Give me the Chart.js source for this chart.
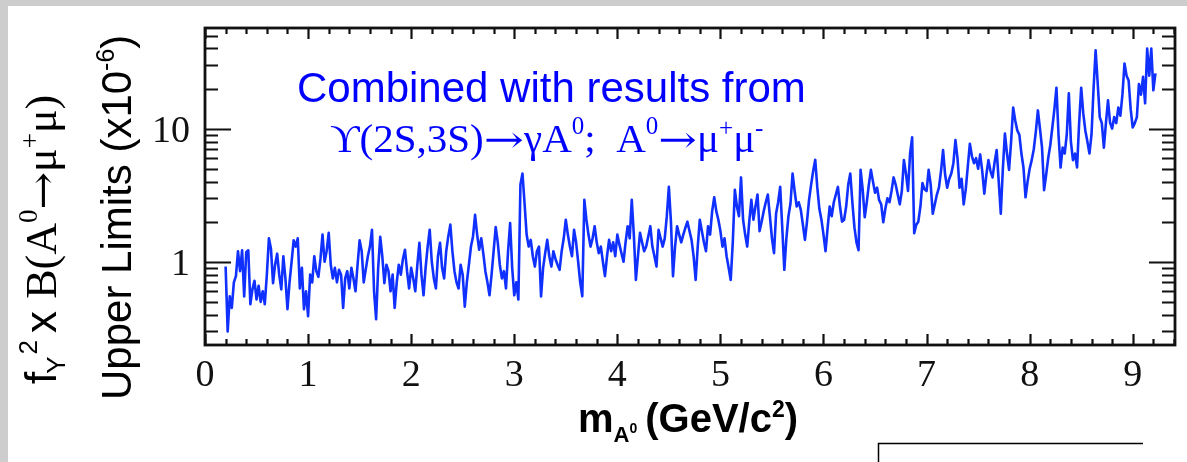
<!DOCTYPE html>
<html>
<head>
<meta charset="utf-8">
<script src="https://cdn.jsdelivr.net/npm/chart.js@4.4.0/dist/chart.umd.min.js"></script>
<style>
  html, body { margin: 0; padding: 0; background: #ffffff; }
  #wrap { position: relative; width: 1187px; height: 462px; }
  canvas { display: block; }
</style>
</head>
<body>
<div id="wrap"><canvas id="c" width="1187" height="462"></canvas></div>
<script>
// Mass scan grid (GeV/c^2): first point and spacing of the scan
const MASS_START = 0.20;
const MASS_STEP = 0.02;

// 90% C.L. upper limits on f_Y^2 x B(A0 -> mu+ mu-), in units of 1e-6, one per scan point
const upperLimit = [
  0.92, 0.30, 0.55, 0.45, 0.70, 0.78, 1.20, 0.85, 1.22, 0.55,
  1.18, 1.22, 0.48, 0.62, 0.72, 0.52, 0.66, 0.50, 0.60, 0.48,
  0.80, 1.50, 1.25, 0.69, 0.95, 1.15, 0.80, 0.62, 1.10, 0.75,
  0.44, 0.70, 1.00, 1.45, 1.30, 1.50, 0.63, 0.90, 0.44, 0.60,
  0.39, 0.80, 0.70, 1.10, 0.85, 0.77, 1.05, 1.60, 1.00, 1.20,
  1.65, 0.95, 0.75, 0.90, 0.70, 0.87, 0.80, 0.45, 0.75, 0.85,
  0.63, 0.90, 0.75, 0.60, 0.95, 1.45, 1.20, 0.70, 0.88, 1.10,
  1.30, 1.74, 0.60, 0.37, 0.90, 1.54, 1.10, 0.69, 0.95, 0.85,
  0.60, 0.80, 0.45, 0.70, 0.95, 0.80, 1.05, 1.23, 0.85, 0.63,
  0.90, 0.75, 0.60, 0.95, 1.39, 0.80, 0.56, 0.90, 1.30, 1.74,
  1.00, 0.75, 0.63, 1.10, 1.39, 0.90, 0.75, 1.20, 1.55, 1.90,
  1.20, 0.85, 0.70, 0.63, 0.95, 0.80, 0.46, 0.70, 0.95, 1.30,
  1.55, 2.25, 1.60, 1.23, 1.50, 1.15, 0.85, 0.70, 0.56, 0.80,
  1.20, 1.82, 1.40, 0.95, 0.75, 0.85, 0.63, 1.20, 1.95, 0.90,
  0.56, 0.70, 0.52, 3.80, 4.60, 2.75, 1.60, 1.30, 1.46, 1.10,
  0.92, 1.20, 1.30, 0.55, 0.90, 1.16, 1.46, 1.10, 0.92, 1.20,
  1.05, 0.95, 0.87, 1.20, 1.50, 2.07, 1.60, 1.30, 1.10, 1.74,
  1.40, 1.00, 0.70, 0.55, 2.92, 2.07, 1.60, 1.30, 1.50, 1.85,
  1.40, 1.16, 1.30, 1.00, 0.78, 1.10, 1.46, 1.20, 1.40, 1.10,
  1.60, 1.35, 1.16, 1.00, 1.40, 1.85, 1.50, 2.92, 1.60, 0.73,
  1.10, 1.65, 1.40, 1.20, 1.30, 1.55, 1.85, 1.30, 1.10, 0.92,
  1.74, 1.50, 1.30, 1.50, 2.20, 3.65, 2.00, 0.78, 1.30, 1.85,
  1.60, 1.40, 1.60, 1.80, 2.00, 1.70, 1.46, 1.10, 0.73, 1.30,
  2.07, 1.70, 1.40, 1.20, 1.85, 1.60, 2.40, 3.05, 2.40, 2.07,
  1.70, 1.30, 1.50, 1.10, 0.90, 0.73, 1.40, 3.47, 2.60, 2.20,
  4.30, 2.07, 1.60, 1.30, 2.00, 2.92, 2.07, 2.60, 3.20, 1.70,
  2.00, 2.40, 2.80, 3.20, 2.20, 1.50, 1.16, 2.30, 2.80, 3.65,
  1.80, 0.87, 1.50, 2.20, 2.75, 4.60, 3.40, 2.60, 2.80, 2.45,
  1.90, 1.46, 2.00, 2.92, 3.80, 4.80, 5.83, 3.60, 2.50, 2.07,
  1.60, 1.20, 1.80, 2.60, 2.20, 2.80, 3.20, 3.65, 2.60, 2.00,
  2.07, 2.60, 3.80, 4.60, 2.80, 1.82, 1.40, 1.22, 4.90, 3.50,
  2.16, 2.80, 3.80, 4.90, 4.00, 3.30, 3.60, 2.90, 2.70, 1.98,
  2.50, 3.00, 2.80, 3.40, 4.30, 3.80, 3.20, 2.70, 3.40, 5.80,
  4.60, 3.40, 6.50, 8.60, 1.64, 1.90, 2.00, 2.60, 3.90, 3.50,
  3.40, 4.90, 3.80, 2.30, 2.70, 3.20, 3.60, 4.80, 6.90, 4.50,
  3.60, 4.20, 4.60, 5.50, 8.20, 6.00, 3.60, 4.20, 2.70, 3.50,
  5.20, 7.70, 6.20, 5.50, 6.00, 5.00, 6.40, 4.80, 3.25, 4.50,
  5.80, 4.80, 4.30, 5.60, 6.90, 4.00, 2.30, 5.00, 9.20, 6.50,
  4.90, 8.00, 14.4, 11.5, 9.70, 9.00, 6.50, 5.10, 3.05, 4.00,
  5.00, 5.80, 7.00, 9.50, 13.7, 10.0, 7.20, 3.45, 4.50, 6.00,
  7.50, 10.2, 14.0, 20.3, 9.00, 5.10, 7.20, 6.50, 9.00, 18.4,
  8.00, 5.80, 6.50, 5.10, 11.0, 20.3, 13.0, 9.70, 8.00, 6.50,
  9.00, 20.0, 38.7, 22.0, 12.2, 11.0, 7.20, 11.0, 16.3, 11.1,
  10.0, 12.2, 11.0, 14.4, 12.5, 18.0, 30.8, 25.0, 23.0, 14.0,
  10.2, 11.0, 12.2, 21.6, 18.0, 24.5, 15.5, 40.0, 25.0, 40.0,
  19.4, 26.0
];

// Axis ranges and labelled ticks
const X_MIN = 0, X_MAX = 9.41;
const Y_MIN = 0.237, Y_MAX = 57;
const xTickValues = [0, 1, 2, 3, 4, 5, 6, 7, 8, 9];
const xTickLabels = ['0', '1', '2', '3', '4', '5', '6', '7', '8', '9'];
const yTickValues = [1, 10];
const yTickLabels = ['1', '10'];

const SANS = '"Liberation Sans", Arial, sans-serif';
const SERIF = '"Liberation Serif", "Times New Roman", serif';
const ARROW = '"DejaVu Serif", "DejaVu Sans", serif';
const BLUE_TEXT = '#0000ff';
const BLUE_LINE = '#0f30ff';

const points = upperLimit.map((v, i) => ({ x: MASS_START + i * MASS_STEP, y: v }));

// draw a run of text pieces with individual fonts, baseline offsets and optional horizontal stretch
function drawRuns(ctx, runs, x, y) {
  let cx = x;
  for (const r of runs) {
    ctx.font = r.font;
    const sx = r.sx || 1;
    const w = ctx.measureText(r.t).width * sx;
    ctx.save();
    ctx.translate(cx + (r.dx || 0), y + (r.dy || 0));
    ctx.scale(sx, 1);
    ctx.fillText(r.t, 0, 0);
    ctx.restore();
    if (!r.stay) cx += w + (r.dx || 0) + (r.after || 0);
  }
  return cx - x;
}
function runsWidth(ctx, runs) {
  let w = 0;
  for (const r of runs) {
    ctx.font = r.font;
    if (!r.stay) w += ctx.measureText(r.t).width * (r.sx || 1) + (r.dx || 0) + (r.after || 0);
  }
  return w;
}

const framePlugin = {
  id: 'frame',
  beforeDraw(chart) {
    const ctx = chart.ctx;
    ctx.save();
    ctx.fillStyle = '#ffffff';
    ctx.fillRect(0, 0, chart.width, chart.height);
    // slide margin strips
    ctx.fillStyle = '#cdcdcd';
    ctx.fillRect(0, 0, chart.width, 6);
    ctx.fillRect(0, 0, 8, chart.height);
    ctx.restore();
  },
  afterDatasetsDraw(chart) {
    const ctx = chart.ctx;
    const xs = chart.scales.x, ys = chart.scales.y;
    const { left, right, top, bottom } = chart.chartArea;
    ctx.save();
    ctx.strokeStyle = '#111';
    ctx.lineCap = 'butt';

    // x ticks every 0.2, pointing inward at bottom and top
    ctx.lineWidth = 2.2;
    for (let k = 0; k * 0.2 <= X_MAX + 1e-9; k++) {
      const px = Math.round(xs.getPixelForValue(k * 0.2)) + 0.5;
      const len = (k % 5 === 0) ? 11 : 6;
      ctx.beginPath();
      ctx.moveTo(px, bottom); ctx.lineTo(px, bottom - len);
      ctx.moveTo(px, top); ctx.lineTo(px, top + len);
      ctx.stroke();
    }
    // y ticks: decades and their 2..9 subdivisions
    for (const d of [0.1, 1, 10]) {
      for (let k = 1; k <= 9; k++) {
        const v = d * k;
        if (v < Y_MIN || v > Y_MAX) continue;
        const py = Math.round(ys.getPixelForValue(v)) + 0.5;
        const len = (k === 1) ? 26 : 13;
        ctx.beginPath();
        ctx.moveTo(left, py); ctx.lineTo(left + len, py);
        ctx.moveTo(right, py); ctx.lineTo(right - len, py);
        ctx.stroke();
      }
    }
    // frame
    ctx.lineWidth = 2.8;
    ctx.strokeRect(left, top, right - left, bottom - top);

    // tick labels
    ctx.fillStyle = '#111';
    ctx.font = '38px ' + SERIF;
    ctx.textAlign = 'center';
    ctx.textBaseline = 'alphabetic';
    xTickValues.forEach((v, i) => {
      ctx.fillText(xTickLabels[i], xs.getPixelForValue(v), bottom + 41);
    });
    ctx.textAlign = 'right';
    yTickValues.forEach((v, i) => {
      ctx.fillText(yTickLabels[i], left - 15, ys.getPixelForValue(v) + 13);
    });

    // x-axis title
    ctx.textAlign = 'left';
    ctx.fillStyle = '#000';
    const xt = [
      { t: 'm', font: 'bold 40px ' + SANS },
      { t: 'A', font: 'bold 22px ' + SANS, dy: 10 },
      { t: '0', font: 'bold 14px ' + SANS, dy: 1, after: 8 },
      { t: '(GeV/c', font: 'bold 40px ' + SANS },
      { t: '2', font: 'bold 23px ' + SANS, dy: -15 },
      { t: ')', font: 'bold 40px ' + SANS }
    ];
    const xtw = runsWidth(ctx, xt);
    drawRuns(ctx, xt, 688 - xtw / 2, 432);

    // y-axis title, two rotated lines
    const y1 = [
      { t: 'f', font: '44px ' + SANS },
      { t: 'Υ', font: '26px ' + SANS, dy: 9, dx: -2 },
      { t: '2', font: '26px ' + SANS, dy: -19, dx: 2, after: 7 },
      { t: 'x ', font: '44px ' + SANS },
      { t: 'B(A', font: '44px ' + SERIF },
      { t: '0', font: '27px ' + SERIF, dy: -19 },
      { t: '\u2192', font: '39px ' + ARROW, sx: 1.15 },
      { t: 'μ', font: '44px ' + SERIF },
      { t: '+', font: '27px ' + SERIF, dy: -17 },
      { t: 'μ)', font: '44px ' + SERIF }
    ];
    ctx.save();
    ctx.translate(56, 384);
    ctx.rotate(-Math.PI / 2);
    drawRuns(ctx, y1, 0, 0);
    ctx.restore();

    const y2 = [
      { t: 'Upper Limits (x10', font: '42px ' + SANS },
      { t: '-6', font: '25px ' + SANS, dy: -17 },
      { t: ')', font: '42px ' + SANS }
    ];
    ctx.save();
    ctx.translate(131, 400);
    ctx.rotate(-Math.PI / 2);
    drawRuns(ctx, y2, 0, 0);
    ctx.restore();

    // annotation
    ctx.fillStyle = BLUE_TEXT;
    ctx.font = '42px ' + SANS;
    ctx.textAlign = 'left';
    ctx.fillText('Combined with results from', 297, 102);
    const ann = [
      { t: 'ϒ(2S,3S)', font: '41px ' + SERIF },
      { t: '\u2192', font: '37px ' + ARROW, sx: 1.3 },
      { t: 'γA', font: '41px ' + SERIF },
      { t: '0', font: '25px ' + SERIF, dy: -18 },
      { t: ';  A', font: '41px ' + SERIF },
      { t: '0', font: '25px ' + SERIF, dy: -18 },
      { t: '\u2192', font: '37px ' + ARROW, sx: 1.25 },
      { t: 'μ', font: '41px ' + SERIF },
      { t: '+', font: '25px ' + SERIF, dy: -16 },
      { t: 'μ', font: '41px ' + SERIF },
      { t: '-', font: '25px ' + SERIF, dy: -16 }
    ];
    drawRuns(ctx, ann, 330, 152);

    // corner of a neighbouring box
    ctx.strokeStyle = '#000';
    ctx.lineWidth = 1.5;
    ctx.beginPath();
    ctx.moveTo(878.5, 462); ctx.lineTo(878.5, 443.5); ctx.lineTo(1143, 443.5);
    ctx.stroke();
    ctx.restore();
  }
};

new Chart(document.getElementById('c'), {
  type: 'line',
  data: {
    datasets: [{
      data: points,
      borderColor: BLUE_LINE,
      borderWidth: 2.6,
      borderJoinStyle: 'round',
      pointRadius: 0,
      tension: 0,
      fill: false
    }]
  },
  options: {
    responsive: false,
    animation: false,
    events: [],
    layout: { padding: { left: 205, top: 28, right: 12, bottom: 117 } },
    scales: {
      x: { type: 'linear', min: X_MIN, max: X_MAX, display: false },
      y: { type: 'logarithmic', min: Y_MIN, max: Y_MAX, display: false }
    },
    plugins: { legend: { display: false }, tooltip: { enabled: false } }
  },
  plugins: [framePlugin]
});
</script>
</body>
</html>
